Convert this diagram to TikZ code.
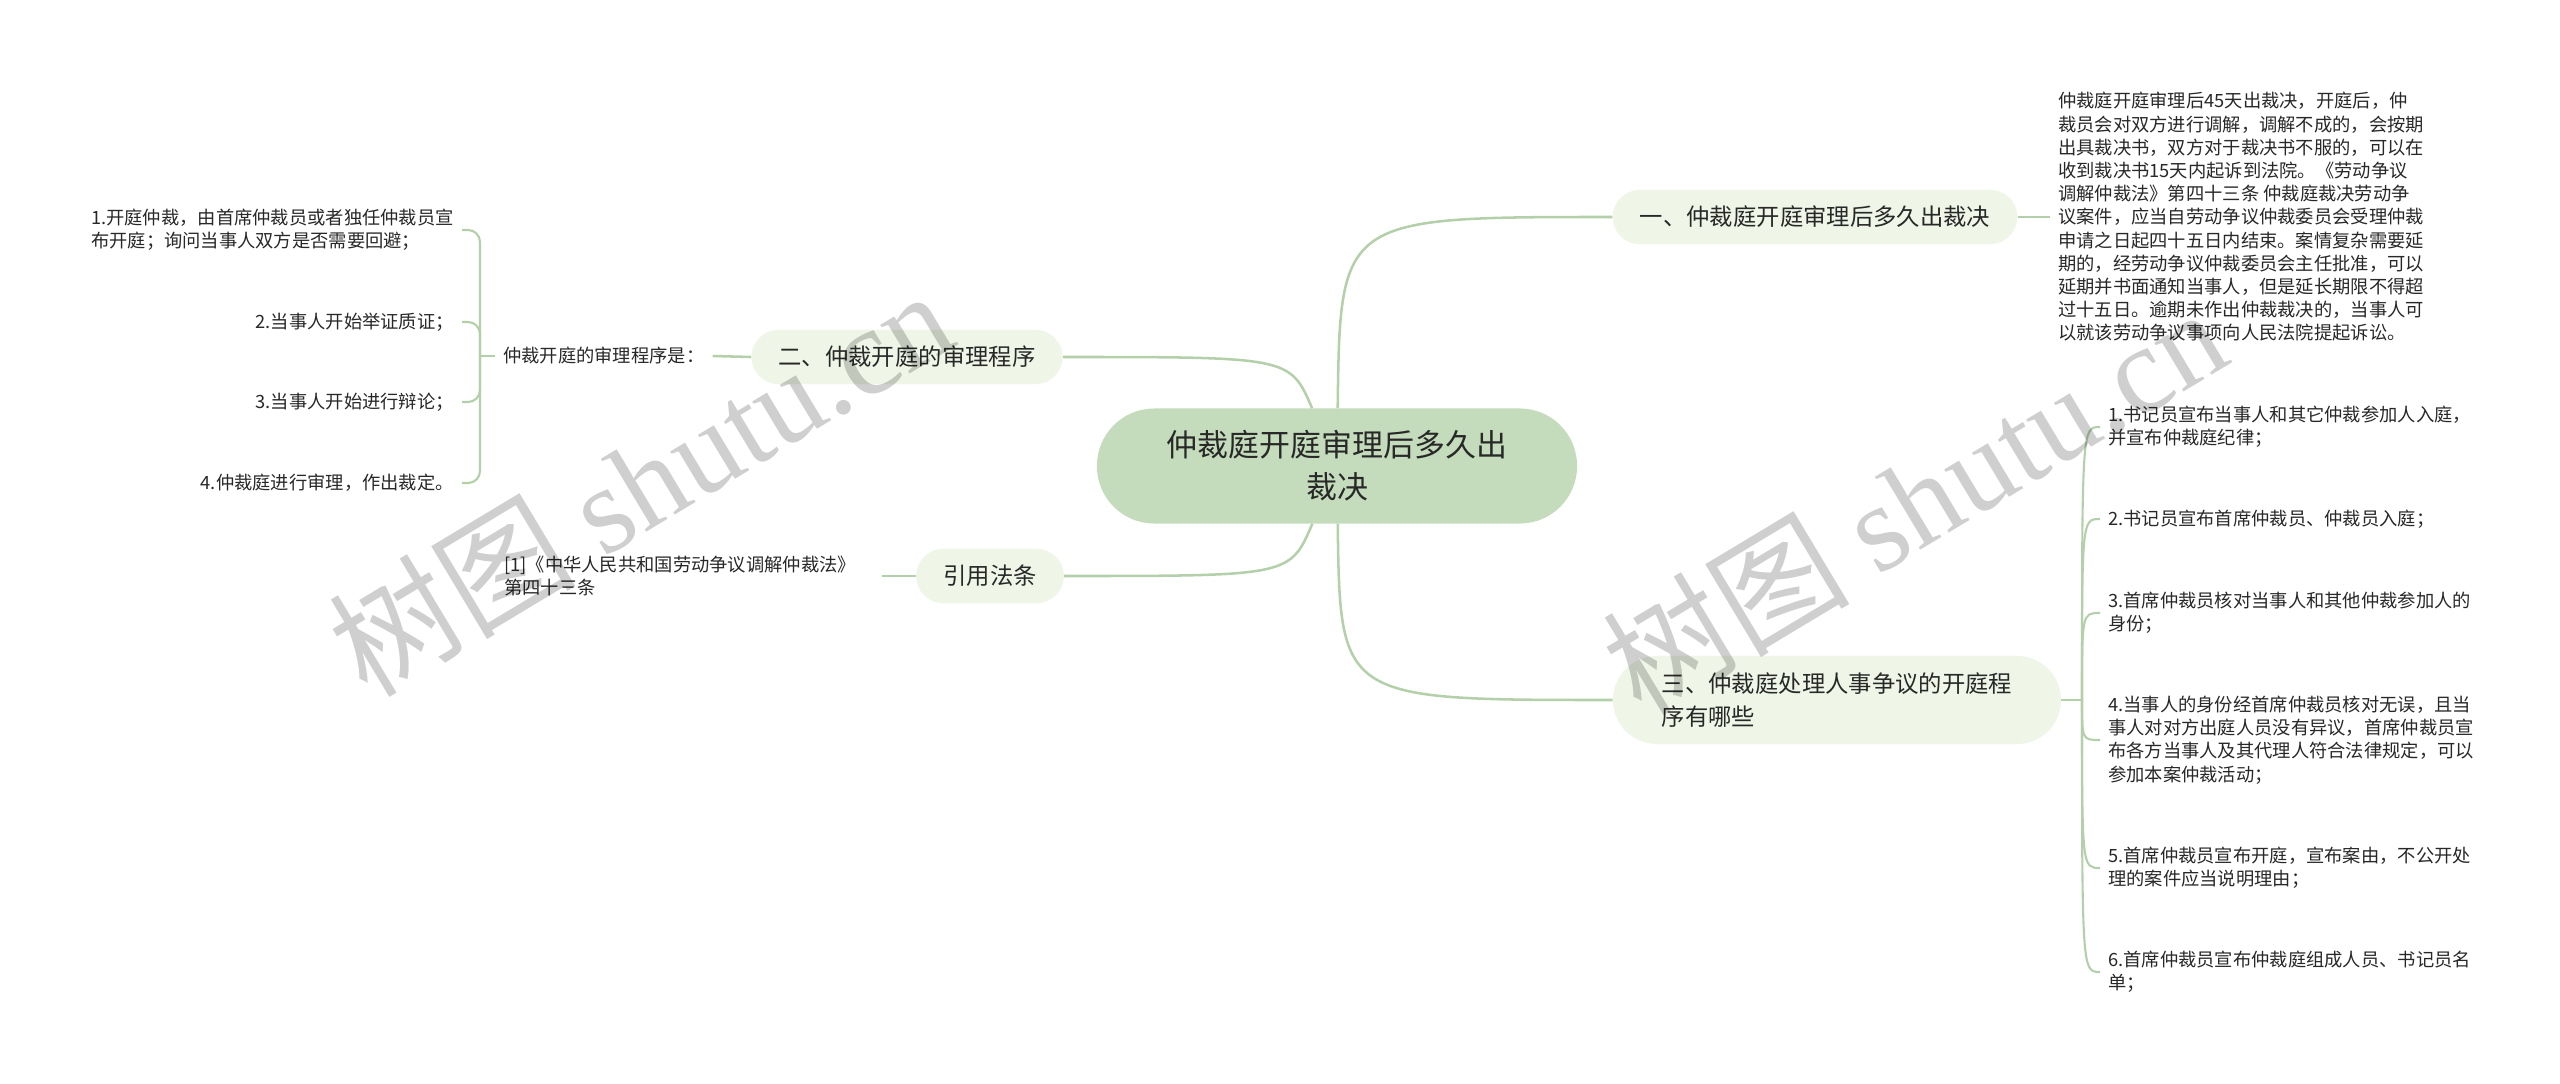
\documentclass[tikz,border=0pt]{standalone}
\usepackage{fontspec}
\setmainfont{Noto Sans CJK SC}
\newfontfamily\wmlatin{Liberation Serif}

% 顏色設定
\definecolor{rootfill}{RGB}{196,220,188}
\definecolor{branchfill}{RGB}{239,246,231}
\definecolor{linkgreen}{RGB}{180,208,170}
\definecolor{txt}{RGB}{40,40,40}

\begin{document}
\begin{tikzpicture}[
        % 座標以像素為單位,y 軸向下
        x=0.025cm, y=-0.025cm,
        % 中心主題:綠色膠囊
        rootnode/.style={
            rectangle,
            fill=rootfill,
            rounded corners=1.43cm,
            minimum width=12cm,
            minimum height=2.875cm,
            align=center,
            text=txt,
            font=\fontsize{22}{29.8}\selectfont
        },
        % 分支主題:淺綠膠囊
        branch/.style={
            rectangle,
            fill=branchfill,
            rounded corners=0.68cm,
            minimum height=1.36cm,
            inner xsep=0.68cm,
            align=left,
            text=txt,
            font=\fontsize{16.6}{23.5}\selectfont
        },
        % 葉節點文字
        leaf/.style={
            align=left,
            inner xsep=0.2cm,
            inner ysep=0.1cm,
            text=txt,
            font=\fontsize{13}{16.5}\selectfont
        },
        % 連線樣式
        link/.style={draw=linkgreen, line width=1.8pt},
        leaflink/.style={draw=linkgreen, line width=1.5pt},
        % 浮水印
        watermark/.style={
            text=black,
            text opacity=0.19,
            inner sep=0pt,
            font=\fontsize{88}{88}\selectfont
        }
    ]

    % --- 背景與邊界 ---
    \fill[white] (0,0) rectangle (2560,1084);
    \useasboundingbox (0,0) rectangle (2560,1084);

    % --- 中心主題 ---
    \node[rootnode] (root) at (1337,466) {仲裁庭开庭审理后多久出\\裁决};

    % --- 分支主題 ---
    \node[branch] (b1) at (1815,217) {一、仲裁庭开庭审理后多久出裁决};
    \node[branch] (b2) at (907,357) {二、仲裁开庭的审理程序};
    \node[branch] (cite) at (990,576) {引用法条};
    \node[branch, minimum width=11.2cm, minimum height=2.2cm, rounded corners=1.1cm]
        (b3) at (1837,700) {三、仲裁庭处理人事争议的开庭程\\序有哪些};

    % --- 一 的說明文字 ---
    \node[leaf, anchor=west] (desc) at (2050,217) {%
        仲裁庭开庭审理后45天出裁决，开庭后，仲\\
        裁员会对双方进行调解，调解不成的，会按期\\
        出具裁决书，双方对于裁决书不服的，可以在\\
        收到裁决书15天内起诉到法院。《劳动争议\\
        调解仲裁法》第四十三条 仲裁庭裁决劳动争\\
        议案件，应当自劳动争议仲裁委员会受理仲裁\\
        申请之日起四十五日内结束。案情复杂需要延\\
        期的，经劳动争议仲裁委员会主任批准，可以\\
        延期并书面通知当事人，但是延长期限不得超\\
        过十五日。逾期未作出仲裁裁决的，当事人可\\
        以就该劳动争议事项向人民法院提起诉讼。};

    % --- 二 的子節點 ---
    \node[leaf, anchor=west] (sub) at (495,356) {仲裁开庭的审理程序是：};
    \coordinate (jL) at (480,356);
    \node[leaf, anchor=east] (l1) at (462,230) {1.开庭仲裁，由首席仲裁员或者独任仲裁员宣\\布开庭；询问当事人双方是否需要回避；};
    \node[leaf, anchor=east] (l2) at (462,322) {2.当事人开始举证质证；};
    \node[leaf, anchor=east] (l3) at (462,402) {3.当事人开始进行辩论；};
    \node[leaf, anchor=east] (l4) at (462,483) {4.仲裁庭进行审理，作出裁定。};

    % --- 引用法條 ---
    \node[leaf, anchor=west] (law) at (496,576) {[1]《中华人民共和国劳动争议调解仲裁法》\\第四十三条};

    % --- 三 的子節點 ---
    \coordinate (jR) at (2082,700);
    \node[leaf, anchor=west] (r1) at (2100,427) {1.书记员宣布当事人和其它仲裁参加人入庭，\\并宣布仲裁庭纪律；};
    \node[leaf, anchor=west] (r2) at (2100,519) {2.书记员宣布首席仲裁员、仲裁员入庭；};
    \node[leaf, anchor=west] (r3) at (2100,613) {3.首席仲裁员核对当事人和其他仲裁参加人的\\身份；};
    \node[leaf, anchor=west] (r4) at (2100,740) {4.当事人的身份经首席仲裁员核对无误，且当\\事人对对方出庭人员没有异议，首席仲裁员宣\\布各方当事人及其代理人符合法律规定，可以\\参加本案仲裁活动；};
    \node[leaf, anchor=west] (r5) at (2100,868) {5.首席仲裁员宣布开庭，宣布案由，不公开处\\理的案件应当说明理由；};
    \node[leaf, anchor=west] (r6) at (2100,972) {6.首席仲裁员宣布仲裁庭组成人员、书记员名\\单；};

    % --- 中心到分支的曲線 ---
    \draw[link] (root) .. controls (1340,217) .. (b1.west);
    \draw[link] (root) .. controls (1340,700) .. (b3.west);
    \draw[link] (root) .. controls (1290,357) .. (b2.east);
    \draw[link] (root) .. controls (1290,576) .. (cite.east);

    % --- 分支到葉節點 ---
    \draw[link] (b1.east) -- (desc.west);
    \draw[link] (b2.west) -- (sub.east);
    \draw[link] (cite.west) -- ([xshift=0.45cm]law.east);
    \draw[leaflink] (sub.west) -- (jL);
    \foreach \n in {l1,l2,l3,l4}
        \draw[leaflink, rounded corners=0.3cm] (jL) -- (jL |- \n.east) -- (\n.east);
    \draw[leaflink] (b3.east) -- (jR);
    \foreach \n in {r1,r2,r3,r4,r5,r6}
        \draw[leaflink] (jR) .. controls (jR |- \n.west) .. (\n.west);

    % --- 浮水印 ---
    \node[watermark, anchor=base, rotate=31] (wm1) at (664,522) {树图 {\wmlatin shutu.cn}};
    \node[watermark, anchor=base, rotate=31] (wm2) at (1938,540) {树图 {\wmlatin shutu.cn}};

\end{tikzpicture}
\end{document}
